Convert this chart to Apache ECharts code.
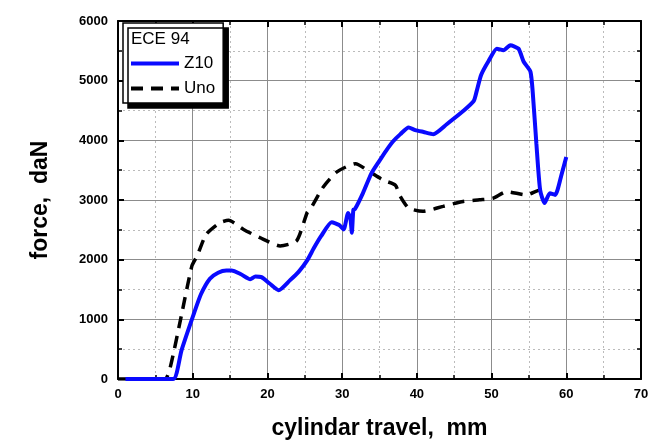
<!DOCTYPE html>
<html>
<head>
<meta charset="utf-8">
<script src="https://cdn.jsdelivr.net/npm/echarts@6/dist/echarts.min.js"></script>
<style>
  html, body { margin: 0; padding: 0; background: #fff; }
  #chart { width: 657px; height: 445px; }
</style>
</head>
<body>
<div id="chart"></div>
<script>
// Z10 curve (x in mm, force in daN)
var z10X = [1, 3.9, 7.4, 8.5, 10.1, 11.1, 12.3, 13.4, 14.5, 15.2, 16.4, 17.7, 18.4, 19.2, 20.3, 21.5, 23.0, 24.2, 25.3, 26.2, 27.2, 28.6, 29.6, 30.2, 30.8, 31.1, 31.3, 31.5, 31.7, 32.8, 33.9, 34.9, 35.9, 36.8, 37.8, 38.9, 39.8, 40.9, 42.2, 44.0, 46.2, 47.6, 48.0, 48.6, 49.6, 50.7, 51.6, 52.5, 53.6, 54.3, 55.2, 55.5, 56.0, 56.5, 57.1, 57.8, 58.5, 59.4, 60.0];
var z10Y = [0, 0, 0, 480, 1074, 1420, 1680, 1780, 1818, 1818, 1760, 1670, 1719, 1708, 1600, 1488, 1653, 1800, 1983, 2190, 2397, 2628, 2580, 2507, 2782, 2700, 2452, 2838, 2843, 3120, 3443, 3640, 3829, 3980, 4104, 4215, 4171, 4140, 4104, 4270, 4490, 4656, 4821, 5096, 5330, 5537, 5510, 5592, 5537, 5317, 5152, 4821, 3940, 3168, 2948, 3113, 3085, 3443, 3719];

// Uno curve
var unoX = [0, 3, 6.3, 7.0, 8.5, 9.9, 10.6, 11.8, 13.6, 14.8, 16.8, 19.0, 21.7, 23.9, 25.3, 25.7, 27.5, 29.3, 31.8, 33.7, 35.5, 37.1, 37.8, 38.9, 40.8, 43.5, 46.2, 48.4, 50.2, 52.0, 54.7, 56.5, 57.7];
var unoY = [0, 0, 0, 198, 1074, 1900, 2066, 2424, 2617, 2661, 2507, 2369, 2231, 2314, 2782, 2838, 3223, 3471, 3609, 3471, 3333, 3251, 3058, 2865, 2810, 2893, 2975, 3003, 3030, 3140, 3085, 3168, 3090];

function pairs(xs, ys) {
  return xs.map(function (x, i) { return [x, ys[i]] })
}

var font = 'Liberation Sans, Arial, sans-serif'
var chart = echarts.init(document.getElementById('chart'))

var axisBase = {
  axisLine: { show: true, onZero: false, lineStyle: { color: '#000', width: 2 } },
  axisTick: { show: true, inside: true, length: 6, lineStyle: { color: '#000', width: 2 } },
  minorTick: { show: true, splitNumber: 2, length: 4, lineStyle: { color: '#000', width: 1.5 } }
}

var option = {
  animation: false,
  backgroundColor: '#fff',
  grid: { left: 118, right: 16, top: 21, bottom: 60, containLabel: false },
  legend: {
    orient: 'vertical',
    left: 123,
    top: 23,
    padding: [32, 8, 6, 6],
    itemGap: 8,
    itemWidth: 48,
    itemHeight: 14,
    backgroundColor: '#fff',
    borderColor: '#000',
    borderWidth: 1.5,
    shadowColor: '#000',
    shadowOffsetX: 5,
    shadowOffsetY: 5,
    shadowBlur: 0,
    itemStyle: { opacity: 0 },
    lineStyle: { width: 4 },
    textStyle: { fontFamily: font, fontSize: 17, color: '#000' },
    data: ['Z10', 'Uno']
  },
  graphic: [{
    type: 'text',
    left: 131,
    top: 31,
    z: 100,
    style: { text: 'ECE 94', font: '17px ' + font, fill: '#000' }
  }],
  xAxis: [Object.assign({
    type: 'value',
    min: 0,
    max: 70,
    interval: 10,
    name: 'cylindar travel,  mm',
    nameLocation: 'middle',
    nameGap: 38,
    nameTextStyle: { fontFamily: font, fontSize: 23, fontWeight: 'bold', color: '#000' },
    axisLabel: { fontFamily: font, fontSize: 13, fontWeight: 'bold', color: '#000', margin: 9 },
    splitLine: { show: true, lineStyle: { color: '#8c8c8c', width: 1 } },
    minorSplitLine: { show: true, lineStyle: { color: '#bbb', width: 1, type: [2, 3] } }
  }, axisBase), Object.assign({
    type: 'value',
    position: 'top',
    min: 0,
    max: 70,
    interval: 10,
    axisLabel: { show: false },
    splitLine: { show: false }
  }, axisBase)],
  yAxis: [Object.assign({
    type: 'value',
    min: 0,
    max: 6000,
    interval: 1000,
    name: 'force,  daN',
    nameLocation: 'middle',
    nameGap: 66,
    nameTextStyle: { fontFamily: font, fontSize: 23, fontWeight: 'bold', color: '#000' },
    axisLabel: {
      fontFamily: font, fontSize: 13, fontWeight: 'bold', color: '#000', margin: 10,
      formatter: function (v) { return String(v) }
    },
    splitLine: { show: true, lineStyle: { color: '#8c8c8c', width: 1 } },
    minorSplitLine: { show: true, lineStyle: { color: '#bbb', width: 1, type: [2, 3] } }
  }, axisBase), Object.assign({
    type: 'value',
    position: 'right',
    min: 0,
    max: 6000,
    interval: 1000,
    axisLabel: { show: false },
    splitLine: { show: false }
  }, axisBase)],
  series: [
    {
      name: 'Z10',
      type: 'line',
      data: pairs(z10X, z10Y),
      showSymbol: false,
      symbol: 'none',
      smooth: 0.2,
      z: 3,
      itemStyle: { color: '#0a0aff' },
      lineStyle: { color: '#0a0aff', width: 4 }
    },
    {
      name: 'Uno',
      type: 'line',
      data: pairs(unoX, unoY),
      showSymbol: false,
      symbol: 'none',
      smooth: 0.2,
      z: 2,
      itemStyle: { color: '#000' },
      lineStyle: { color: '#000', width: 3.5, type: [12, 8] }
    }
  ]
}

chart.setOption(option)
</script>
</body>
</html>
